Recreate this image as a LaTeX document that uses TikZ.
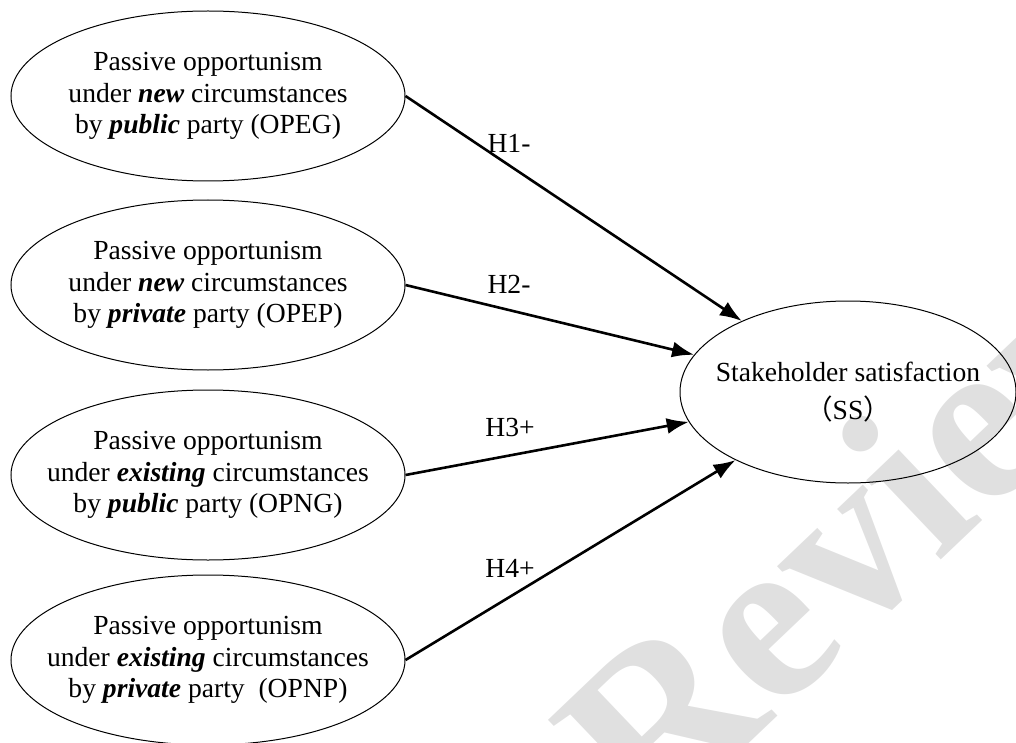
\documentclass[tikz,border=0pt]{standalone}
\usepackage{fontspec}
\setmainfont{Liberation Serif}
\newfontfamily\cjk{Noto Sans CJK SC}
\usepackage{tikz}
\usetikzlibrary{shapes.geometric,arrows.meta}

\newcommand{\bfit}[1]{\textbf{\textit{#1}}}

\begin{document}
\begin{tikzpicture}[x=0.5pt, y=-0.5pt, >={Latex[length=11pt,width=8pt]},
    ell/.style={draw, ellipse, line width=0.5pt, inner sep=0pt, minimum width=197pt, minimum height=85pt},
    txt/.style={align=center, font=\fontsize{13.8}{15.8}\selectfont},
    arr/.style={line width=1.3pt, ->}]
    \useasboundingbox (0,0) rectangle (1016,743);
    \clip (0,0) rectangle (1016,743);
    \node[rotate=43.6, text=black!12, font=\bfseries\fontsize{118.5}{118.5}\selectfont] (mark) at (863,523) {Review};

    \node[ell] (opeg) at (208,96) {};
    \node[txt] (opeg text) at (opeg) {Passive opportunism\\under \bfit{new} circumstances\\by \bfit{public} party (OPEG)};
    \node[ell] (opep) at (208,285) {};
    \node[txt] (opep text) at (opep) {Passive opportunism\\under \bfit{new} circumstances\\by \bfit{private} party (OPEP)};
    \node[ell] (opng) at (208,475) {};
    \node[txt] (opng text) at (opng) {Passive opportunism\\under \bfit{existing} circumstances\\by \bfit{public} party (OPNG)};
    \node[ell] (opnp) at (208,660) {};
    \node[txt] (opnp text) at (opnp) {Passive opportunism\\under \bfit{existing} circumstances\\by \bfit{private} party\ \ (OPNP)};

    \node[ell, minimum width=168pt, minimum height=91pt] (ss) at (848,392) {};
    \node[txt] (ss text) at (ss) {Stakeholder satisfaction\\[3pt]{\cjk （}SS{\cjk ）}};

    \draw[arr] (opeg.east) -- (ss);
    \draw[arr] (opep.east) -- (ss);
    \draw[arr] (opng.east) -- (ss);
    \draw[arr] (opnp.east) -- (ss);
    \node[txt] (h1) at (509,143) {H1-};
    \node[txt] (h2) at (509,284) {H2-};
    \node[txt] (h3) at (510,427) {H3+};
    \node[txt] (h4) at (510,568) {H4+};
\end{tikzpicture}
\end{document}
